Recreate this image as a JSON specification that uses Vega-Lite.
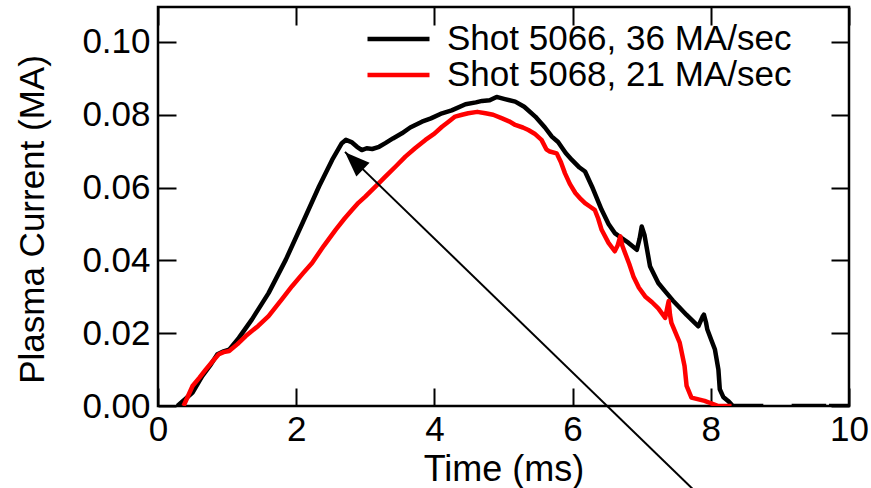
{
  "$schema": "https://vega.github.io/schema/vega-lite/v6.json",
  "width": 691,
  "height": 399,
  "autosize": {"type": "none"},
  "padding": {"left": 158, "top": 7, "right": 22, "bottom": 82},
  "background": "white",
  "config": {
    "font": "Liberation Sans",
    "view": {"stroke": "black", "strokeWidth": 2.5},
    "axis": {
      "domain": false,
      "grid": false,
      "tickColor": "black",
      "tickWidth": 2,
      "tickSize": -18,
      "labelColor": "black",
      "labelFont": "Liberation Sans",
      "labelFontSize": 35,
      "labelFlush": false,
      "labelOverlap": false,
      "labelBound": false,
      "titleColor": "black",
      "titleFont": "Liberation Sans",
      "titleFontSize": 35,
      "titleFontWeight": "normal"
    }
  },
  "datasets": {
    "curves": [
      {"t": 0.28, "i": 0.0, "shot": "Shot 5066, 36 MA/sec", "seg": "a"},
      {"t": 0.40, "i": 0.002, "shot": "Shot 5066, 36 MA/sec", "seg": "a"},
      {"t": 0.50, "i": 0.0037, "shot": "Shot 5066, 36 MA/sec", "seg": "a"},
      {"t": 0.64, "i": 0.0082, "shot": "Shot 5066, 36 MA/sec", "seg": "a"},
      {"t": 0.75, "i": 0.011, "shot": "Shot 5066, 36 MA/sec", "seg": "a"},
      {"t": 0.86, "i": 0.0142, "shot": "Shot 5066, 36 MA/sec", "seg": "a"},
      {"t": 0.95, "i": 0.015, "shot": "Shot 5066, 36 MA/sec", "seg": "a"},
      {"t": 1.03, "i": 0.0155, "shot": "Shot 5066, 36 MA/sec", "seg": "a"},
      {"t": 1.17, "i": 0.0187, "shot": "Shot 5066, 36 MA/sec", "seg": "a"},
      {"t": 1.36, "i": 0.0238, "shot": "Shot 5066, 36 MA/sec", "seg": "a"},
      {"t": 1.60, "i": 0.031, "shot": "Shot 5066, 36 MA/sec", "seg": "a"},
      {"t": 1.85, "i": 0.0402, "shot": "Shot 5066, 36 MA/sec", "seg": "a"},
      {"t": 2.09, "i": 0.0502, "shot": "Shot 5066, 36 MA/sec", "seg": "a"},
      {"t": 2.33, "i": 0.0603, "shot": "Shot 5066, 36 MA/sec", "seg": "a"},
      {"t": 2.52, "i": 0.0676, "shot": "Shot 5066, 36 MA/sec", "seg": "a"},
      {"t": 2.66, "i": 0.0722, "shot": "Shot 5066, 36 MA/sec", "seg": "a"},
      {"t": 2.72, "i": 0.0731, "shot": "Shot 5066, 36 MA/sec", "seg": "a"},
      {"t": 2.80, "i": 0.0725, "shot": "Shot 5066, 36 MA/sec", "seg": "a"},
      {"t": 2.88, "i": 0.0712, "shot": "Shot 5066, 36 MA/sec", "seg": "a"},
      {"t": 2.95, "i": 0.0703, "shot": "Shot 5066, 36 MA/sec", "seg": "a"},
      {"t": 3.02, "i": 0.0708, "shot": "Shot 5066, 36 MA/sec", "seg": "a"},
      {"t": 3.10, "i": 0.0706, "shot": "Shot 5066, 36 MA/sec", "seg": "a"},
      {"t": 3.20, "i": 0.0712, "shot": "Shot 5066, 36 MA/sec", "seg": "a"},
      {"t": 3.29, "i": 0.0722, "shot": "Shot 5066, 36 MA/sec", "seg": "a"},
      {"t": 3.40, "i": 0.0735, "shot": "Shot 5066, 36 MA/sec", "seg": "a"},
      {"t": 3.53, "i": 0.0749, "shot": "Shot 5066, 36 MA/sec", "seg": "a"},
      {"t": 3.65, "i": 0.0765, "shot": "Shot 5066, 36 MA/sec", "seg": "a"},
      {"t": 3.82, "i": 0.0781, "shot": "Shot 5066, 36 MA/sec", "seg": "a"},
      {"t": 3.95, "i": 0.079, "shot": "Shot 5066, 36 MA/sec", "seg": "a"},
      {"t": 4.11, "i": 0.0804, "shot": "Shot 5066, 36 MA/sec", "seg": "a"},
      {"t": 4.25, "i": 0.0812, "shot": "Shot 5066, 36 MA/sec", "seg": "a"},
      {"t": 4.45, "i": 0.0829, "shot": "Shot 5066, 36 MA/sec", "seg": "a"},
      {"t": 4.60, "i": 0.0834, "shot": "Shot 5066, 36 MA/sec", "seg": "a"},
      {"t": 4.69, "i": 0.0838, "shot": "Shot 5066, 36 MA/sec", "seg": "a"},
      {"t": 4.80, "i": 0.084, "shot": "Shot 5066, 36 MA/sec", "seg": "a"},
      {"t": 4.90, "i": 0.0849, "shot": "Shot 5066, 36 MA/sec", "seg": "a"},
      {"t": 5.02, "i": 0.0843, "shot": "Shot 5066, 36 MA/sec", "seg": "a"},
      {"t": 5.17, "i": 0.0836, "shot": "Shot 5066, 36 MA/sec", "seg": "a"},
      {"t": 5.30, "i": 0.0822, "shot": "Shot 5066, 36 MA/sec", "seg": "a"},
      {"t": 5.46, "i": 0.0795, "shot": "Shot 5066, 36 MA/sec", "seg": "a"},
      {"t": 5.60, "i": 0.0765, "shot": "Shot 5066, 36 MA/sec", "seg": "a"},
      {"t": 5.70, "i": 0.074, "shot": "Shot 5066, 36 MA/sec", "seg": "a"},
      {"t": 5.79, "i": 0.0725, "shot": "Shot 5066, 36 MA/sec", "seg": "a"},
      {"t": 5.90, "i": 0.0695, "shot": "Shot 5066, 36 MA/sec", "seg": "a"},
      {"t": 5.99, "i": 0.0676, "shot": "Shot 5066, 36 MA/sec", "seg": "a"},
      {"t": 6.10, "i": 0.0655, "shot": "Shot 5066, 36 MA/sec", "seg": "a"},
      {"t": 6.18, "i": 0.0644, "shot": "Shot 5066, 36 MA/sec", "seg": "a"},
      {"t": 6.28, "i": 0.0603, "shot": "Shot 5066, 36 MA/sec", "seg": "a"},
      {"t": 6.42, "i": 0.0539, "shot": "Shot 5066, 36 MA/sec", "seg": "a"},
      {"t": 6.52, "i": 0.05, "shot": "Shot 5066, 36 MA/sec", "seg": "a"},
      {"t": 6.61, "i": 0.0475, "shot": "Shot 5066, 36 MA/sec", "seg": "a"},
      {"t": 6.72, "i": 0.046, "shot": "Shot 5066, 36 MA/sec", "seg": "a"},
      {"t": 6.81, "i": 0.0448, "shot": "Shot 5066, 36 MA/sec", "seg": "a"},
      {"t": 6.93, "i": 0.0429, "shot": "Shot 5066, 36 MA/sec", "seg": "a"},
      {"t": 6.97, "i": 0.046, "shot": "Shot 5066, 36 MA/sec", "seg": "a"},
      {"t": 7.00, "i": 0.0493, "shot": "Shot 5066, 36 MA/sec", "seg": "a"},
      {"t": 7.04, "i": 0.047, "shot": "Shot 5066, 36 MA/sec", "seg": "a"},
      {"t": 7.07, "i": 0.0438, "shot": "Shot 5066, 36 MA/sec", "seg": "a"},
      {"t": 7.12, "i": 0.0384, "shot": "Shot 5066, 36 MA/sec", "seg": "a"},
      {"t": 7.24, "i": 0.0338, "shot": "Shot 5066, 36 MA/sec", "seg": "a"},
      {"t": 7.34, "i": 0.0315, "shot": "Shot 5066, 36 MA/sec", "seg": "a"},
      {"t": 7.45, "i": 0.029, "shot": "Shot 5066, 36 MA/sec", "seg": "a"},
      {"t": 7.53, "i": 0.0274, "shot": "Shot 5066, 36 MA/sec", "seg": "a"},
      {"t": 7.65, "i": 0.025, "shot": "Shot 5066, 36 MA/sec", "seg": "a"},
      {"t": 7.82, "i": 0.0219, "shot": "Shot 5066, 36 MA/sec", "seg": "a"},
      {"t": 7.88, "i": 0.0245, "shot": "Shot 5066, 36 MA/sec", "seg": "a"},
      {"t": 7.90, "i": 0.0251, "shot": "Shot 5066, 36 MA/sec", "seg": "a"},
      {"t": 7.93, "i": 0.023, "shot": "Shot 5066, 36 MA/sec", "seg": "a"},
      {"t": 7.95, "i": 0.021, "shot": "Shot 5066, 36 MA/sec", "seg": "a"},
      {"t": 8.01, "i": 0.018, "shot": "Shot 5066, 36 MA/sec", "seg": "a"},
      {"t": 8.06, "i": 0.0155, "shot": "Shot 5066, 36 MA/sec", "seg": "a"},
      {"t": 8.11, "i": 0.01, "shot": "Shot 5066, 36 MA/sec", "seg": "a"},
      {"t": 8.13, "i": 0.0046, "shot": "Shot 5066, 36 MA/sec", "seg": "a"},
      {"t": 8.18, "i": 0.0025, "shot": "Shot 5066, 36 MA/sec", "seg": "a"},
      {"t": 8.25, "i": 0.0014, "shot": "Shot 5066, 36 MA/sec", "seg": "a"},
      {"t": 8.32, "i": 0.0, "shot": "Shot 5066, 36 MA/sec", "seg": "a"},
      {"t": 8.76, "i": 0.0, "shot": "Shot 5066, 36 MA/sec", "seg": "a"},
      {"t": 9.17, "i": 0.0, "shot": "Shot 5066, 36 MA/sec", "seg": "b"},
      {"t": 9.67, "i": 0.0, "shot": "Shot 5066, 36 MA/sec", "seg": "b"},
      {"t": 9.71, "i": 0.0, "shot": "Shot 5066, 36 MA/sec", "seg": "c"},
      {"t": 10.0, "i": 0.0, "shot": "Shot 5066, 36 MA/sec", "seg": "c"},
      {"t": 0.37, "i": 0.0, "shot": "Shot 5068, 21 MA/sec", "seg": "a"},
      {"t": 0.50, "i": 0.0055, "shot": "Shot 5068, 21 MA/sec", "seg": "a"},
      {"t": 0.60, "i": 0.0078, "shot": "Shot 5068, 21 MA/sec", "seg": "a"},
      {"t": 0.69, "i": 0.01, "shot": "Shot 5068, 21 MA/sec", "seg": "a"},
      {"t": 0.80, "i": 0.0125, "shot": "Shot 5068, 21 MA/sec", "seg": "a"},
      {"t": 0.88, "i": 0.0142, "shot": "Shot 5068, 21 MA/sec", "seg": "a"},
      {"t": 0.95, "i": 0.0148, "shot": "Shot 5068, 21 MA/sec", "seg": "a"},
      {"t": 1.03, "i": 0.0151, "shot": "Shot 5068, 21 MA/sec", "seg": "a"},
      {"t": 1.15, "i": 0.017, "shot": "Shot 5068, 21 MA/sec", "seg": "a"},
      {"t": 1.27, "i": 0.0192, "shot": "Shot 5068, 21 MA/sec", "seg": "a"},
      {"t": 1.45, "i": 0.022, "shot": "Shot 5068, 21 MA/sec", "seg": "a"},
      {"t": 1.60, "i": 0.0247, "shot": "Shot 5068, 21 MA/sec", "seg": "a"},
      {"t": 1.80, "i": 0.0295, "shot": "Shot 5068, 21 MA/sec", "seg": "a"},
      {"t": 1.94, "i": 0.0329, "shot": "Shot 5068, 21 MA/sec", "seg": "a"},
      {"t": 2.10, "i": 0.0365, "shot": "Shot 5068, 21 MA/sec", "seg": "a"},
      {"t": 2.23, "i": 0.0393, "shot": "Shot 5068, 21 MA/sec", "seg": "a"},
      {"t": 2.40, "i": 0.044, "shot": "Shot 5068, 21 MA/sec", "seg": "a"},
      {"t": 2.57, "i": 0.0484, "shot": "Shot 5068, 21 MA/sec", "seg": "a"},
      {"t": 2.70, "i": 0.0515, "shot": "Shot 5068, 21 MA/sec", "seg": "a"},
      {"t": 2.81, "i": 0.0539, "shot": "Shot 5068, 21 MA/sec", "seg": "a"},
      {"t": 2.90, "i": 0.0558, "shot": "Shot 5068, 21 MA/sec", "seg": "a"},
      {"t": 3.00, "i": 0.0575, "shot": "Shot 5068, 21 MA/sec", "seg": "a"},
      {"t": 3.15, "i": 0.0603, "shot": "Shot 5068, 21 MA/sec", "seg": "a"},
      {"t": 3.29, "i": 0.063, "shot": "Shot 5068, 21 MA/sec", "seg": "a"},
      {"t": 3.45, "i": 0.066, "shot": "Shot 5068, 21 MA/sec", "seg": "a"},
      {"t": 3.58, "i": 0.0685, "shot": "Shot 5068, 21 MA/sec", "seg": "a"},
      {"t": 3.72, "i": 0.0708, "shot": "Shot 5068, 21 MA/sec", "seg": "a"},
      {"t": 3.87, "i": 0.0731, "shot": "Shot 5068, 21 MA/sec", "seg": "a"},
      {"t": 4.00, "i": 0.0748, "shot": "Shot 5068, 21 MA/sec", "seg": "a"},
      {"t": 4.11, "i": 0.0767, "shot": "Shot 5068, 21 MA/sec", "seg": "a"},
      {"t": 4.20, "i": 0.078, "shot": "Shot 5068, 21 MA/sec", "seg": "a"},
      {"t": 4.30, "i": 0.0795, "shot": "Shot 5068, 21 MA/sec", "seg": "a"},
      {"t": 4.40, "i": 0.08, "shot": "Shot 5068, 21 MA/sec", "seg": "a"},
      {"t": 4.49, "i": 0.0804, "shot": "Shot 5068, 21 MA/sec", "seg": "a"},
      {"t": 4.62, "i": 0.0808, "shot": "Shot 5068, 21 MA/sec", "seg": "a"},
      {"t": 4.74, "i": 0.0804, "shot": "Shot 5068, 21 MA/sec", "seg": "a"},
      {"t": 4.85, "i": 0.08, "shot": "Shot 5068, 21 MA/sec", "seg": "a"},
      {"t": 4.98, "i": 0.079, "shot": "Shot 5068, 21 MA/sec", "seg": "a"},
      {"t": 5.08, "i": 0.0782, "shot": "Shot 5068, 21 MA/sec", "seg": "a"},
      {"t": 5.17, "i": 0.0772, "shot": "Shot 5068, 21 MA/sec", "seg": "a"},
      {"t": 5.28, "i": 0.0765, "shot": "Shot 5068, 21 MA/sec", "seg": "a"},
      {"t": 5.36, "i": 0.0758, "shot": "Shot 5068, 21 MA/sec", "seg": "a"},
      {"t": 5.45, "i": 0.0748, "shot": "Shot 5068, 21 MA/sec", "seg": "a"},
      {"t": 5.55, "i": 0.0731, "shot": "Shot 5068, 21 MA/sec", "seg": "a"},
      {"t": 5.62, "i": 0.0705, "shot": "Shot 5068, 21 MA/sec", "seg": "a"},
      {"t": 5.67, "i": 0.0699, "shot": "Shot 5068, 21 MA/sec", "seg": "a"},
      {"t": 5.77, "i": 0.0694, "shot": "Shot 5068, 21 MA/sec", "seg": "a"},
      {"t": 5.83, "i": 0.067, "shot": "Shot 5068, 21 MA/sec", "seg": "a"},
      {"t": 5.89, "i": 0.0639, "shot": "Shot 5068, 21 MA/sec", "seg": "a"},
      {"t": 5.96, "i": 0.061, "shot": "Shot 5068, 21 MA/sec", "seg": "a"},
      {"t": 6.04, "i": 0.0585, "shot": "Shot 5068, 21 MA/sec", "seg": "a"},
      {"t": 6.12, "i": 0.0568, "shot": "Shot 5068, 21 MA/sec", "seg": "a"},
      {"t": 6.18, "i": 0.0557, "shot": "Shot 5068, 21 MA/sec", "seg": "a"},
      {"t": 6.25, "i": 0.0548, "shot": "Shot 5068, 21 MA/sec", "seg": "a"},
      {"t": 6.32, "i": 0.0539, "shot": "Shot 5068, 21 MA/sec", "seg": "a"},
      {"t": 6.37, "i": 0.0515, "shot": "Shot 5068, 21 MA/sec", "seg": "a"},
      {"t": 6.42, "i": 0.0484, "shot": "Shot 5068, 21 MA/sec", "seg": "a"},
      {"t": 6.52, "i": 0.0448, "shot": "Shot 5068, 21 MA/sec", "seg": "a"},
      {"t": 6.61, "i": 0.0425, "shot": "Shot 5068, 21 MA/sec", "seg": "a"},
      {"t": 6.65, "i": 0.044, "shot": "Shot 5068, 21 MA/sec", "seg": "a"},
      {"t": 6.69, "i": 0.0466, "shot": "Shot 5068, 21 MA/sec", "seg": "a"},
      {"t": 6.72, "i": 0.044, "shot": "Shot 5068, 21 MA/sec", "seg": "a"},
      {"t": 6.76, "i": 0.042, "shot": "Shot 5068, 21 MA/sec", "seg": "a"},
      {"t": 6.82, "i": 0.039, "shot": "Shot 5068, 21 MA/sec", "seg": "a"},
      {"t": 6.88, "i": 0.0356, "shot": "Shot 5068, 21 MA/sec", "seg": "a"},
      {"t": 6.96, "i": 0.0325, "shot": "Shot 5068, 21 MA/sec", "seg": "a"},
      {"t": 7.05, "i": 0.0301, "shot": "Shot 5068, 21 MA/sec", "seg": "a"},
      {"t": 7.15, "i": 0.0285, "shot": "Shot 5068, 21 MA/sec", "seg": "a"},
      {"t": 7.24, "i": 0.0268, "shot": "Shot 5068, 21 MA/sec", "seg": "a"},
      {"t": 7.34, "i": 0.0242, "shot": "Shot 5068, 21 MA/sec", "seg": "a"},
      {"t": 7.37, "i": 0.027, "shot": "Shot 5068, 21 MA/sec", "seg": "a"},
      {"t": 7.39, "i": 0.0288, "shot": "Shot 5068, 21 MA/sec", "seg": "a"},
      {"t": 7.41, "i": 0.025, "shot": "Shot 5068, 21 MA/sec", "seg": "a"},
      {"t": 7.43, "i": 0.0228, "shot": "Shot 5068, 21 MA/sec", "seg": "a"},
      {"t": 7.55, "i": 0.0174, "shot": "Shot 5068, 21 MA/sec", "seg": "a"},
      {"t": 7.62, "i": 0.011, "shot": "Shot 5068, 21 MA/sec", "seg": "a"},
      {"t": 7.65, "i": 0.0055, "shot": "Shot 5068, 21 MA/sec", "seg": "a"},
      {"t": 7.72, "i": 0.0023, "shot": "Shot 5068, 21 MA/sec", "seg": "a"},
      {"t": 7.91, "i": 0.0014, "shot": "Shot 5068, 21 MA/sec", "seg": "a"},
      {"t": 8.11, "i": 0.0, "shot": "Shot 5068, 21 MA/sec", "seg": "a"},
      {"t": 8.30, "i": 0.0, "shot": "Shot 5068, 21 MA/sec", "seg": "a"}
    ],
    "arrow": [
      {"tx": 2.706, "ty": 0.0698, "ex": 8.13, "ey": -0.03}
    ],
    "head": [
      {"hx": 2.836, "hy": 0.0673}
    ]
  },
  "layer": [
    {
      "data": {"name": "curves"},
      "mark": {"type": "line", "strokeWidth": 4.5, "strokeJoin": "round", "strokeCap": "butt", "clip": true},
      "encoding": {
        "x": {
          "field": "t", "type": "quantitative",
          "scale": {"domain": [0, 10], "nice": false, "zero": false},
          "axis": {"orient": "bottom", "values": [0, 2, 4, 6, 8, 10], "format": "d", "labelPadding": 24, "title": "Time (ms)", "titleFontSize": 36, "titleY": 74, "titleBaseline": "alphabetic", "titleAlign": "center"}
        },
        "y": {
          "field": "i", "type": "quantitative",
          "scale": {"domain": [0, 0.1096], "nice": false, "zero": false},
          "axis": {"orient": "left", "values": [0, 0.02, 0.04, 0.06, 0.08, 0.1], "format": ".2f", "labelPadding": 26, "title": "Plasma Current (MA)", "titleX": -115, "titleY": 212, "titleBaseline": "alphabetic", "titleAlign": "center", "titleAngle": -90}
        },
        "color": {
          "field": "shot", "type": "nominal",
          "scale": {"domain": ["Shot 5066, 36 MA/sec", "Shot 5068, 21 MA/sec"], "range": ["#000000", "#ff0000"]},
          "legend": {
            "orient": "none", "legendX": 207, "legendY": 14.5, "title": null,
            "symbolType": "stroke", "symbolSize": 3844, "symbolStrokeWidth": 4.5,
            "labelFontSize": 35, "labelFont": "Liberation Sans", "labelColor": "black",
            "labelOffset": 15, "clipHeight": 35, "rowPadding": 0, "padding": 0, "labelLimit": 500
          }
        },
        "detail": {"field": "seg", "type": "nominal"}
      }
    },
    {
      "data": {"name": "arrow"},
      "mark": {"type": "rule", "color": "black", "strokeWidth": 2, "clip": false},
      "encoding": {
        "x": {
          "field": "tx", "type": "quantitative",
          "scale": {"domain": [0, 10], "nice": false, "zero": false},
          "axis": {"orient": "top", "values": [0, 2, 4, 6, 8, 10], "labels": false, "title": null}
        },
        "y": {
          "field": "ty", "type": "quantitative",
          "scale": {"domain": [0, 0.1096], "nice": false, "zero": false},
          "axis": {"orient": "right", "values": [0, 0.02, 0.04, 0.06, 0.08, 0.1], "labels": false, "title": null}
        },
        "x2": {"field": "ex"},
        "y2": {"field": "ey"}
      }
    },
    {
      "data": {"name": "head"},
      "mark": {"type": "point", "shape": "M0,-1L0.76,1L-0.76,1Z", "filled": true, "color": "black", "opacity": 1, "size": 625, "angle": 314, "clip": false},
      "encoding": {
        "x": {"field": "hx", "type": "quantitative", "scale": {"domain": [0, 10], "nice": false, "zero": false}, "axis": null},
        "y": {"field": "hy", "type": "quantitative", "scale": {"domain": [0, 0.1096], "nice": false, "zero": false}, "axis": null}
      }
    }
  ],
  "resolve": {"axis": {"x": "independent", "y": "independent"}}
}
